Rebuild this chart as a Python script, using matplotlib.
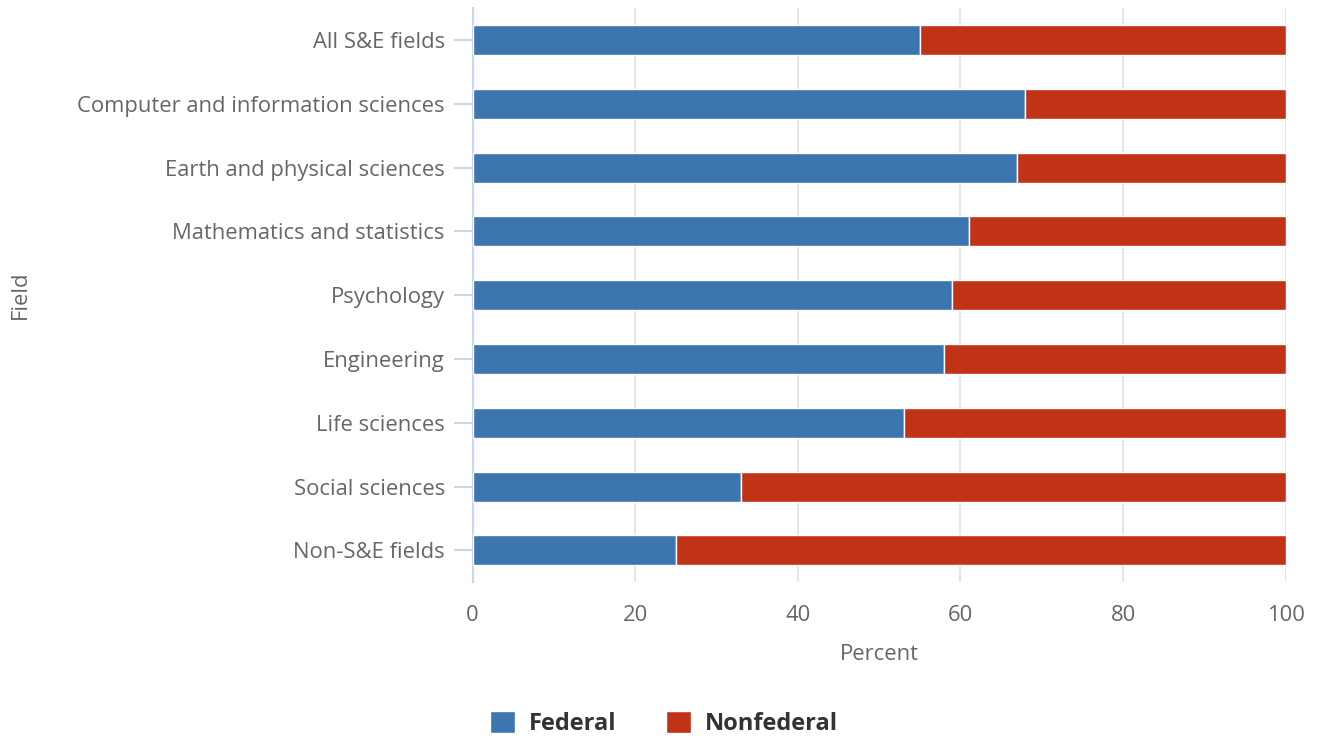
import matplotlib.pyplot as plt
import numpy as np

# Data
fields = ['All S&E fields', 'Computer and information sciences', 'Earth and physical sciences',
          'Mathematics and statistics', 'Psychology', 'Engineering', 'Life sciences',
          'Social sciences', 'Non-S&E fields']
federal = [55, 68, 67, 61, 59, 58, 53, 33, 25]
nonfederal = [45, 32, 33, 39, 41, 42, 47, 67, 75]

plt.rcParams['font.family'] = ['Open Sans', 'DejaVu Sans']

fig = plt.figure(figsize=(13.2, 7.38), dpi=100)
ax = fig.add_axes([0.358, 0.211, 0.616, 0.778])

y = np.arange(len(fields))
ax.barh(y, federal, height=0.47, color='#3b76b0', edgecolor='white', linewidth=1, label='Federal', zorder=3)
ax.barh(y, nonfederal, left=federal, height=0.47, color='#c03317', edgecolor='white', linewidth=1,
        label='Nonfederal', zorder=3)

ax.set_ylim(len(fields) - 0.5, -0.5)
ax.set_xlim(0, 100)
ax.set_yticks(y)
ax.set_yticklabels(fields)
ax.set_xticks([0, 20, 40, 60, 80, 100])

for s in ['top', 'right', 'bottom']:
    ax.spines[s].set_visible(False)
ax.spines['left'].set_color('#ccd6eb')
ax.spines['left'].set_linewidth(1.5)

ax.grid(axis='x', color='#e6e6e6', linewidth=1.5, zorder=0)
ax.tick_params(axis='y', length=14, width=1.5, color='#ccd6eb', pad=6, labelsize=15.8, labelcolor='#666666')
ax.tick_params(axis='x', length=0, pad=16, labelsize=15.8, labelcolor='#666666')

ax.set_xlabel('Percent', fontsize=15.8, color='#666666', labelpad=13)
ax.set_ylabel('Field', fontsize=15.8, color='#666666')
ax.yaxis.set_label_coords(-0.543, 0.5)

leg = fig.legend(loc='lower center', bbox_to_anchor=(0.503, -0.026), ncol=2, frameon=False,
                 prop={'weight': 'bold', 'size': 17}, handlelength=1.05, handleheight=1.05,
                 columnspacing=2.1, handletextpad=0.6)
for t in leg.get_texts():
    t.set_color('#333333')

fig.savefig('out.png')
